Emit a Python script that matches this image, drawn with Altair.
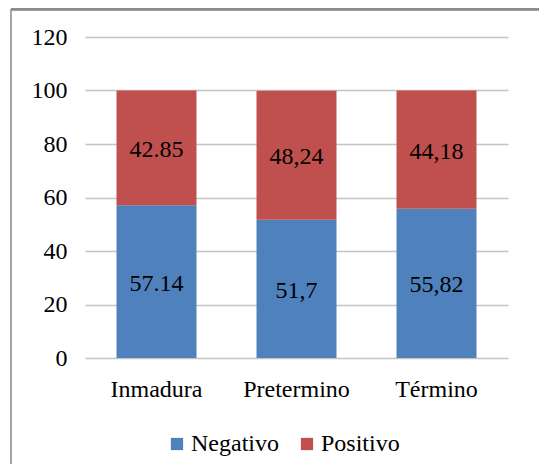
import altair as alt
import pandas as pd

categories = ["Inmadura", "Pretermino", "Término"]
negativo = [57.14, 51.7, 55.82]
positivo = [42.85, 48.24, 44.18]
neg_labels = ["57.14", "51,7", "55,82"]
pos_labels = ["42.85", "48,24", "44,18"]
series = ["Negativo", "Positivo"]
colors = ["#4F81BD", "#C0504D"]

rows = []
for c, n, p, nl, pl in zip(categories, negativo, positivo, neg_labels, pos_labels):
    rows.append({"cat": c, "serie": "Negativo", "val": n, "lab": nl, "ord": 0})
    rows.append({"cat": c, "serie": "Positivo", "val": p, "lab": pl, "ord": 1})
df = pd.DataFrame(rows)

FONT = "Liberation Serif, Times New Roman, serif"

xaxis = alt.Axis(labelAngle=0, labelFont=FONT, labelFontSize=24, labelColor="#000",
                 ticks=False, domain=False, labelPadding=19)
yaxis = alt.Axis(values=[0, 20, 40, 60, 80, 100, 120], labelFont=FONT, labelFontSize=24,
                 labelColor="#000", ticks=False, domain=False, labelPadding=18,
                 gridColor="#C4C4C4", gridWidth=1.5)
xscale = alt.Scale(paddingInner=0.4286, paddingOuter=0.225)
yscale = alt.Scale(domain=[0, 120])

bars = alt.Chart(df).mark_bar().encode(
    x=alt.X("cat:N", sort=categories, title=None, scale=xscale, axis=xaxis),
    y=alt.Y("sum(val):Q", title=None, stack="zero", scale=yscale, axis=yaxis),
    color=alt.Color("serie:N", scale=alt.Scale(domain=series, range=colors), title=None,
                    legend=alt.Legend(orient="none", legendX=80, legendY=395,
                                      direction="horizontal", symbolType="square",
                                      symbolSize=150, symbolStrokeWidth=0, labelFont=FONT,
                                      labelFontSize=24, labelColor="#000", labelOffset=2,
                                      columnPadding=16)),
    order=alt.Order("ord:Q"),
)

texts = alt.Chart(df).mark_text(font=FONT, fontSize=24, color="#000", dy=2).encode(
    x=alt.X("cat:N", sort=categories, title=None, scale=xscale, axis=xaxis),
    y=alt.Y("val:Q", stack="zero", bandPosition=0.5, title=None, scale=yscale, axis=yaxis),
    text="lab:N",
    order=alt.Order("ord:Q"),
)

left_border = alt.Chart(df).mark_rule(color="#A6A6A6", strokeWidth=2).encode(
    x=alt.value(-74), y=alt.value(-28), y2=alt.value(500))
top_border = alt.Chart(df).mark_rule(color="#8C8C8C", strokeWidth=2.5).encode(
    x=alt.value(-74), x2=alt.value(600), y=alt.value(-28))

chart = alt.layer(bars, texts, left_border, top_border).properties(
    width=423, height=321,
    autosize=alt.AutoSizeParams(type="none"),
    padding={"left": 77, "top": 29, "right": 31, "bottom": 106},
).configure(font=FONT).configure_view(stroke=None)

chart.save("out.html", embed_options={"renderer": "svg", "actions": False})
